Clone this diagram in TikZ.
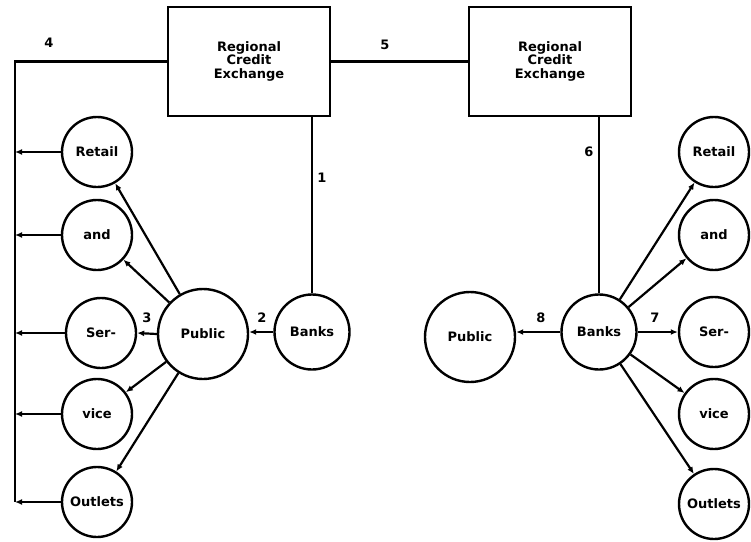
\documentclass[tikz,border=0pt]{standalone}
\usepackage{fontspec}
\setmainfont{DejaVu Sans}
\usetikzlibrary{arrows.meta}
\newcommand{\boxtext}{\raisebox{6pt}{\renewcommand{\arraystretch}{0.92}\begin{tabular}{@{}c@{}}Regional\\Credit\\Exchange\end{tabular}}}
\begin{document}
\begin{tikzpicture}[x=1pt,y=-1pt,
  every node/.style={font=\fontsize{13}{13}\selectfont\bfseries},
  box/.style={draw,line width=2.4pt,minimum width=162pt,minimum height=109pt,inner sep=0pt,align=center},
  big/.style={draw,circle,line width=2.4pt,minimum size=90pt,inner sep=0pt},
  mid/.style={draw,circle,line width=2.4pt,minimum size=75pt,inner sep=0pt},
  small/.style={draw,circle,line width=2.4pt,minimum size=70pt,inner sep=0pt},
  conn/.style={line width=2.4pt},
  arr/.style={line width=2.2pt,-{Latex[length=7pt,width=6pt]}},
  num/.style={inner sep=0pt}
]
\useasboundingbox (0,0) rectangle (751,541);

% boxes
\node[box] (rce1) at (249,61.5) {\boxtext};
\node[box] (rce2) at (550,61.5) {\boxtext};

% left side
\node[big] (pubL) at (203,334) {Public};
\node[mid] (bankL) at (312,332) {Banks};
\node[small] (retL) at (97,152) {Retail};
\node[small] (andL) at (97,235) {and};
\node[small] (serL) at (101,333) {Ser-};
\node[small] (vicL) at (97,414) {vice};
\node[small] (outL) at (97,502) {Outlets};

% right side
\node[big] (pubR) at (470,337) {Public};
\node[mid] (bankR) at (599,332) {Banks};
\node[small] (retR) at (714,152) {Retail};
\node[small] (andR) at (714,235) {and};
\node[small] (serR) at (714,332) {Ser-};
\node[small] (vicR) at (714,414) {vice};
\node[small] (outR) at (714,504) {Outlets};

% top connectors
\coordinate (vtop) at (15,61.5);
\draw[conn] (rce1.east) -- (rce2.west);
\draw[conn] (rce1.west) -- (vtop) -- (vtop |- outL.west);
\draw[conn] (rce1.south -| bankL.north) -- (bankL.north);
\draw[conn] (rce2.south -| bankR.north) -- (bankR.north);

% left arrows
\draw[arr] (bankL.west) -- (pubL.east |- bankL.west);
\draw[arr] (pubL) -- (retL);
\draw[arr] (pubL) -- (andL);
\draw[arr] (pubL.west) -- (serL.east);
\draw[arr] (pubL) -- (vicL);
\draw[arr] (pubL) -- (outL);
\foreach \n in {retL,andL,serL,vicL,outL}
  \draw[arr] (\n.west) -- (\n.west -| vtop);

% right arrows
\draw[arr] (bankR.west) -- (pubR.east |- bankR.west);
\draw[arr] (bankR) -- (retR);
\draw[arr] (bankR) -- (andR);
\draw[arr] (bankR.east) -- (serR.west);
\draw[arr] (bankR) -- (vicR);
\draw[arr] (bankR) -- (outR);

% numbers
\node[num] (n1) at (322,178) {1};
\node[num] (n2) at (262,318) {2};
\node[num] (n3) at (147,318) {3};
\node[num] (n4) at (49,43) {4};
\node[num] (n5) at (385,45) {5};
\node[num] (n6) at (589,152) {6};
\node[num] (n7) at (655,318) {7};
\node[num] (n8) at (541,318) {8};
\end{tikzpicture}
\end{document}
